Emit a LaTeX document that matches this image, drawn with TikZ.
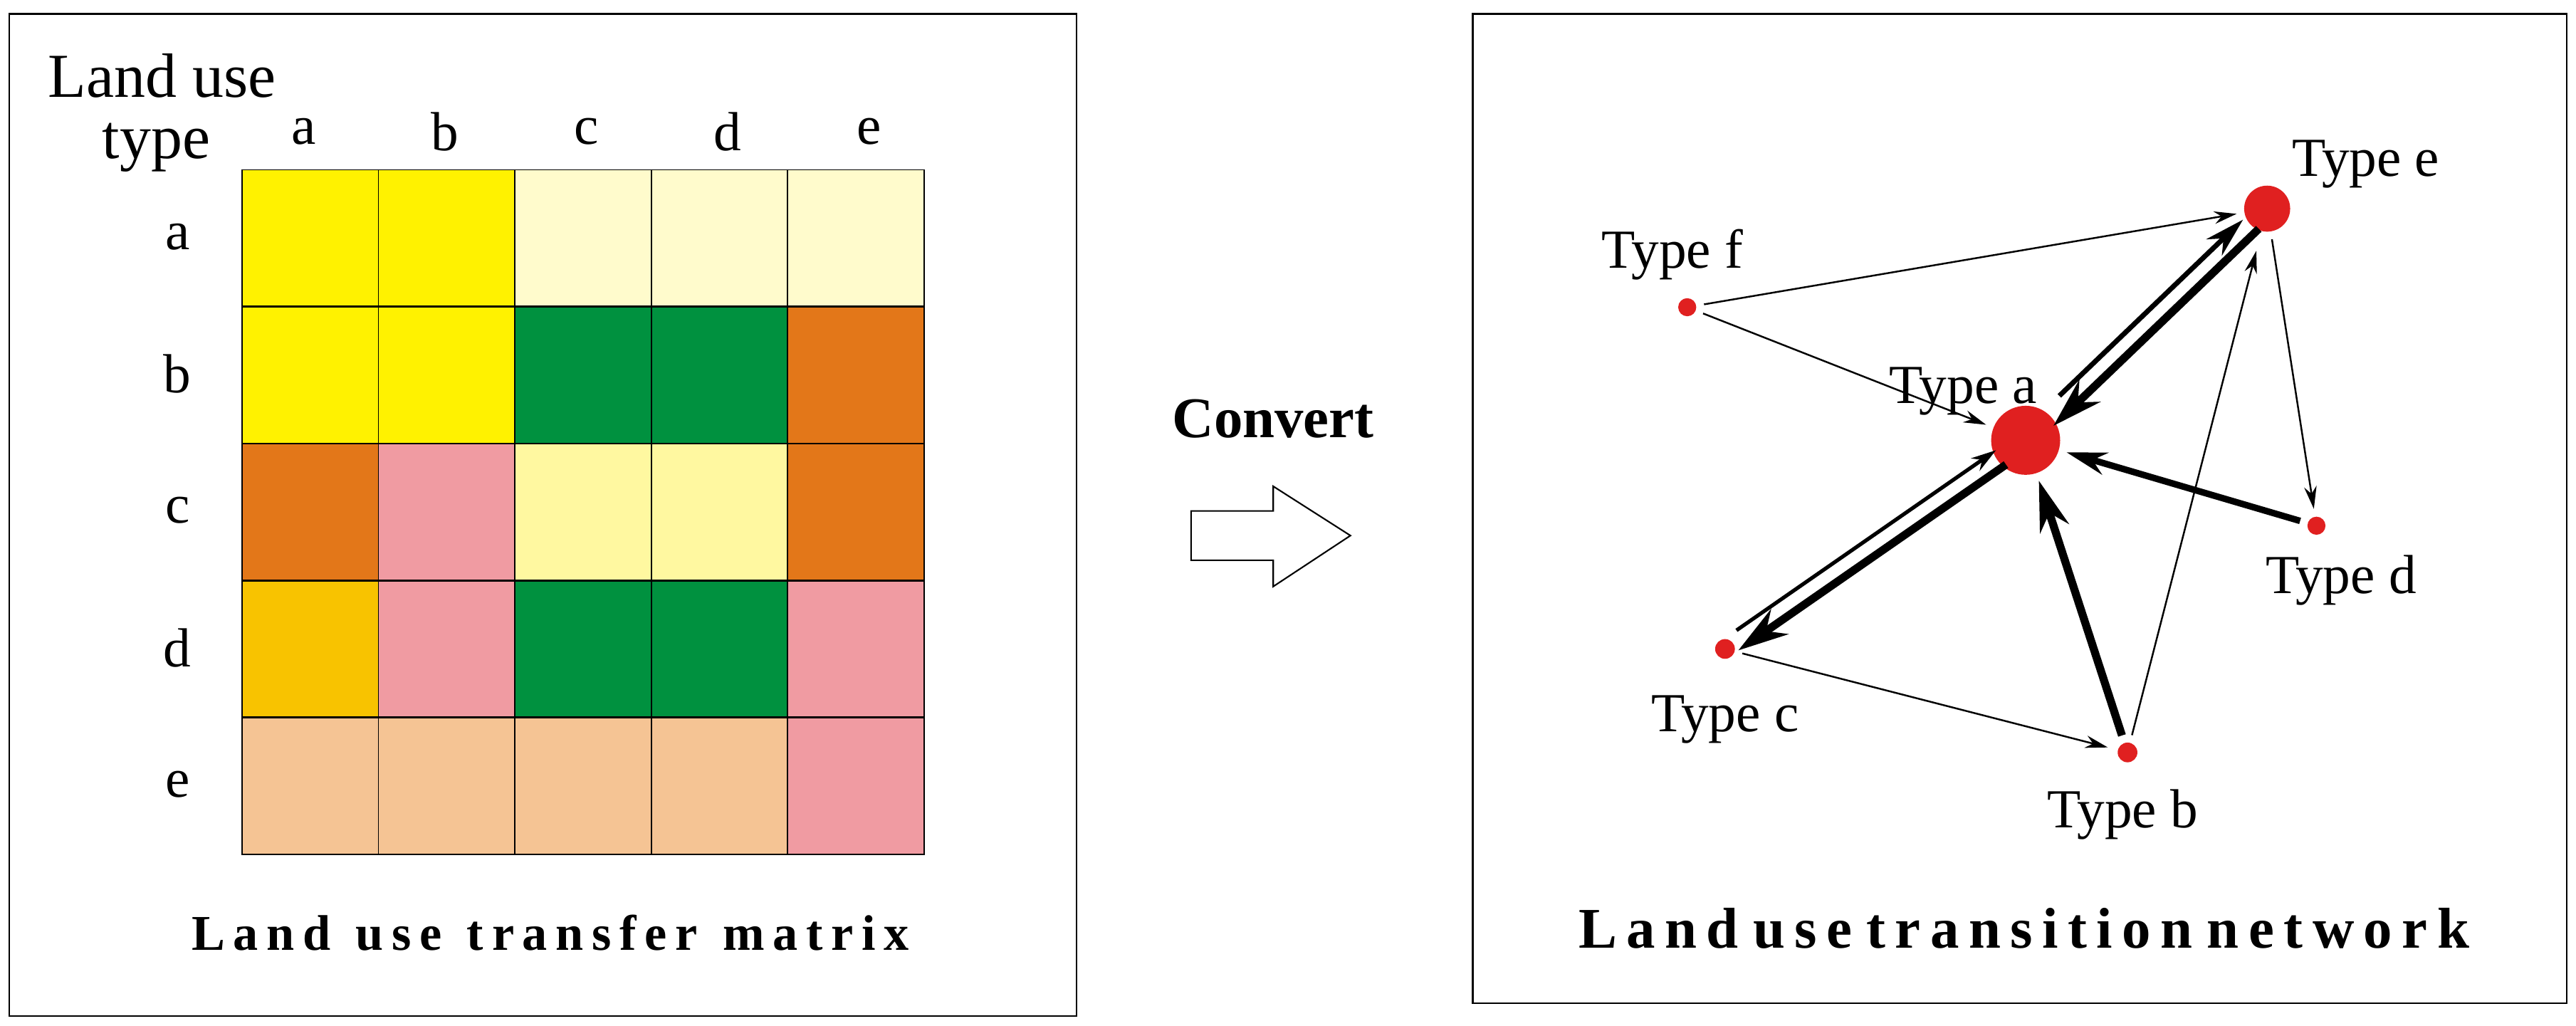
\documentclass[tikz,border=0pt]{standalone}
\usepackage{fontspec}
\setmainfont{Liberation Serif}
\usetikzlibrary{calc,arrows.meta}
\definecolor{yel}{HTML}{FFF200}
\definecolor{lyel}{HTML}{FFFBCC}
\definecolor{pyel}{HTML}{FFF8A0}
\definecolor{grn}{HTML}{00913F}
\definecolor{org}{HTML}{E37719}
\definecolor{pnk}{HTML}{F09BA2}
\definecolor{gld}{HTML}{F8C300}
\definecolor{pch}{HTML}{F5C494}
\definecolor{nred}{HTML}{E02020}
\begin{document}
\begin{tikzpicture}[x=0.02307cm,y=-0.02307cm,
  cell/.style={draw=black,line width=0.5pt,minimum size=83*0.02307cm,inner sep=0,anchor=north west},
  lbl/.style={font=\fontsize{22}{24}\selectfont},
  dot/.style={circle,fill=nred,inner sep=0},
  ln/.style={-{Stealth[length=9pt,width=5pt]},line width=0.7pt},
  med/.style={-{Stealth[length=16pt,width=9pt]},line width=2pt},
  big/.style={-{Stealth[length=20pt,width=12pt]},line width=3.2pt}]
\useasboundingbox (0,0) rectangle (1568,624.5);
\node[draw,line width=0.6pt,minimum width=650*0.02307cm,minimum height=610*0.02307cm,anchor=north west] (lbox) at (5,8) {};
\node[draw,line width=0.6pt,minimum width=666*0.02307cm,minimum height=602*0.02307cm,anchor=north west] (rbox) at (896,8) {};
% matrix
\foreach \r/\cols [count=\i from 0] in {a/{yel,yel,lyel,lyel,lyel},b/{yel,yel,grn,grn,org},c/{org,pnk,pyel,pyel,org},d/{gld,pnk,grn,grn,pnk},e/{pch,pch,pch,pch,pnk}}{
  \foreach \c [count=\j from 0] in \cols {
    \node[cell,fill=\c] (m\i\j) at (147+83*\j,103+83.4*\i) {};
  }
  \node[lbl] (r\i) at (108,144+83.4*\i) {\r};
}
\foreach \c [count=\j from 0] in {a,b,c,d,e} \node[lbl] (c\j) at (185+86*\j,80) {\c};
\node[lbl,anchor=west,font=\fontsize{25}{27}\selectfont] (t1) at (24,46) {Land use};
\node[lbl,anchor=west,font=\fontsize{25}{27}\selectfont] (t2) at (57,90) {type};
\node[font=\bfseries\fontsize{20}{22}\selectfont] (cap1) at (335,568) {L\,a\,n\,d\ \ u\,s\,e\ \ t\,r\,a\,n\,s\,f\,e\,r\ \ m\,a\,t\,r\,i\,x};
% convert
\node[font=\bfseries\fontsize{23}{25}\selectfont] (conv) at (775,255) {Convert};
\draw[line width=0.6pt,fill=white] (725,311) -- (775,311) -- (775,296) -- (822,326) -- (775,357) -- (775,341) -- (725,341) -- cycle;
% network
\node[dot,minimum size=28*0.02307cm] (e) at (1380,127) {};
\node[dot,minimum size=42*0.02307cm] (a) at (1233,268) {};
\node[dot,minimum size=11*0.02307cm] (f) at (1027,187) {};
\node[dot,minimum size=11*0.02307cm] (d) at (1410,320) {};
\node[dot,minimum size=12*0.02307cm] (c) at (1050,395) {};
\node[dot,minimum size=12*0.02307cm] (b) at (1295,458) {};
\node[lbl] (le) at (1440,100) {Type e};
\node[lbl] (la) at (1195,238) {Type a};
\node[lbl] (lf) at (1018,155) {Type f};
\node[lbl] (ld) at (1425,353) {Type d};
\node[lbl] (lc) at (1050,438) {Type c};
\node[lbl] (lb) at (1292,496) {Type b};
\draw[ln,shorten <=3pt,shorten >=3pt] (f) -- (e);
\draw[ln,shorten <=3pt,shorten >=3pt] (f) -- (a);
\draw[ln,shorten <=3pt,shorten >=3pt] (e) -- (d);
\draw[ln,shorten <=3pt,shorten >=4pt] (c) -- (b);
\draw[ln,shorten <=3pt,shorten >=8pt] (b) -- (e);
\draw[big,shorten <=3pt,shorten >=3pt] (b) -- (a);
\draw[med,line width=2.6pt,shorten <=3pt,shorten >=3pt] (d) -- (a);
% a <-> e
\coordinate (ae1) at ($(a)!3.5pt!90:(e)$);
\coordinate (ea1) at ($(e)!3.5pt!-90:(a)$);
\coordinate (ae2) at ($(a)!3.5pt!-90:(e)$);
\coordinate (ea2) at ($(e)!3.5pt!90:(a)$);
\draw[med,shorten <=22pt,shorten >=10pt] (ae1) -- (ea1);
\draw[big,shorten <=8pt,shorten >=12pt] (ea2) -- (ae2);
% a <-> c
\coordinate (ac1) at ($(a)!3.5pt!90:(c)$);
\coordinate (ca1) at ($(c)!3.5pt!-90:(a)$);
\coordinate (ac2) at ($(a)!3.5pt!-90:(c)$);
\coordinate (ca2) at ($(c)!3.5pt!90:(a)$);
\draw[-{Stealth[length=10pt,width=6pt]},line width=1.5pt,shorten <=8pt,shorten >=12pt] (ca2) -- (ac2);
\draw[big,shorten <=12pt,shorten >=4pt] (ac1) -- (ca1);
\node[font=\bfseries\fontsize{23}{25}\selectfont] (cap2) at (1232,565) {L\,a\,n\,d\ u\,s\,e\ t\,r\,a\,n\,s\,i\,t\,i\,o\,n\ n\,e\,t\,w\,o\,r\,k};
\end{tikzpicture}
\end{document}
